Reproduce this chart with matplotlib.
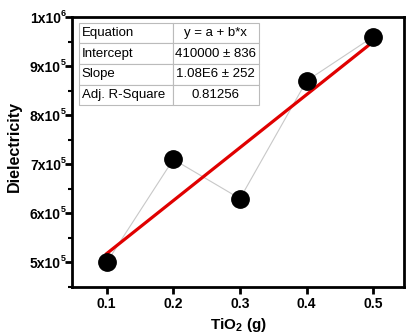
import matplotlib
matplotlib.use("Agg")
import matplotlib.pyplot as plt
import numpy as np
from matplotlib.ticker import FuncFormatter, MultipleLocator

plt.rcParams['font.family'] = ['Liberation Sans', 'DejaVu Sans']
plt.rcParams['mathtext.fontset'] = 'custom'
plt.rcParams['mathtext.rm'] = 'Liberation Sans:bold'
plt.rcParams['mathtext.bf'] = 'Liberation Sans:bold'
plt.rcParams['mathtext.default'] = 'bf'

# data
tio2 = [0.1, 0.2, 0.3, 0.4, 0.5]
dielectricity = [5.0e5, 7.1e5, 6.3e5, 8.7e5, 9.6e5]

table_rows = [
    ["Equation", "y = a + b*x"],
    ["Intercept", "410000 ± 836"],
    ["Slope", "1.08E6 ± 252"],
    ["Adj. R-Square", "0.81256"],
]

fig = plt.figure(figsize=(4.07, 3.36), dpi=100)
ax = fig.add_axes([72/407, 1 - 287/336, 332/407, 270/336])

# thin gray line through the points, then the linear fit
ax.plot(tio2, dielectricity, color='#c8c8c8', lw=0.8, zorder=1)
b, a = np.polyfit(tio2, dielectricity, 1)
xfit = np.array([tio2[0], tio2[-1]])
ax.plot(xfit, a + b * xfit, color='#e00000', lw=2.3, zorder=2)
ax.plot(tio2, dielectricity, 'o', color='black', ms=12.5, zorder=3)

ax.set_xlim(0.048, 0.546)
ax.set_ylim(4.5e5, 1.0e6)
ax.set_xticks(tio2)
ax.yaxis.set_major_locator(MultipleLocator(1e5))
ax.yaxis.set_minor_locator(MultipleLocator(5e4))
ax.xaxis.set_major_formatter(FuncFormatter(lambda v, p: '%.1f' % v))

# y tick labels: bold mantissa text plus a small raised exponent
ax.set_yticklabels([])
for v in np.arange(5e5, 1.0e6 + 1, 1e5):
    e = int(np.floor(np.log10(v)))
    m = int(round(v / 10**e))
    yy = ax.transData.transform((0, v))[1]
    fy = yy / fig.dpi / fig.get_figheight()
    fig.text(61/407, fy - 2/336, '%dx10' % m, ha='right', va='center',
             fontsize=10, fontweight='bold')
    fig.text(60.5/407, fy + 3.5/336, '%d' % e, ha='left', va='center',
             fontsize=6.5, fontweight='bold')

for s in ax.spines.values():
    s.set_linewidth(2)
ax.tick_params(which='major', direction='out', length=5, width=2, labelsize=10, pad=2)
ax.tick_params(axis='y', which='minor', direction='out', length=3, width=1.5)
for lbl in ax.get_xticklabels():
    lbl.set_fontweight('bold')

ax.set_xlabel(r'TiO$_2$ (g)', fontsize=11, fontweight='bold', labelpad=4)
fig.text(14/407, 1 - 147/336, 'Dielectricity', rotation=90, ha='center', va='center',
         fontsize=11.5, fontweight='bold')

tbl = ax.table(cellText=table_rows, cellLoc='left',
               bbox=[0.021, 0.674, 0.542, 0.304], colWidths=[0.52, 0.48])
tbl.auto_set_font_size(False)
tbl.set_fontsize(9.5)
for (r, c), cell in tbl.get_celld().items():
    cell.set_edgecolor('#bbbbbb')
    cell.set_linewidth(0.8)
    cell.set_facecolor('white')
    cell.get_text().set_fontweight('normal')
    if c == 1:
        cell._loc = 'center'
        cell.get_text().set_ha('center')
    else:
        cell.PAD = 0.03

fig.savefig('out.png', dpi=100)
